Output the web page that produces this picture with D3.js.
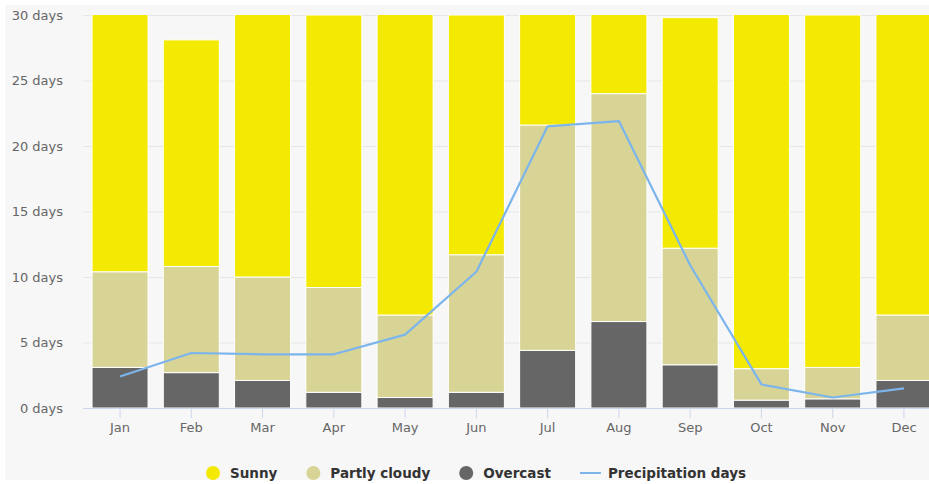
<!DOCTYPE html>
<html><head><meta charset="utf-8">
<script src="https://cdn.jsdelivr.net/npm/d3@7"></script>
<style>html,body{margin:0;padding:0;background:#fff;overflow:hidden}svg{display:block;font-family:"DejaVu Sans",Verdana,sans-serif}</style>
</head><body><svg id="c" width="929" height="484"></svg>
<script>
const months = ["Jan","Feb","Mar","Apr","May","Jun","Jul","Aug","Sep","Oct","Nov","Dec"];
const sunny = [20.6, 17.3, 21.0, 20.8, 23.9, 18.3, 9.4, 7.0, 17.6, 28.0, 26.9, 23.9];
const partlyCloudy = [7.3, 8.1, 7.9, 8.0, 6.3, 10.5, 17.2, 17.4, 8.9, 2.4, 2.4, 5.0];
const overcast = [3.1, 2.7, 2.1, 1.2, 0.8, 1.2, 4.4, 6.6, 3.3, 0.6, 0.7, 2.1];
const precipitation = [2.4, 4.2, 4.1, 4.1, 5.6, 10.4, 21.5, 21.9, 10.9, 1.8, 0.8, 1.5];
const yTicks = [0, 5, 10, 15, 20, 25, 30];
const seriesNames = ["Sunny", "Partly cloudy", "Overcast", "Precipitation days"];
const colors = {"Sunny":"#f4e900","Partly cloudy":"#d8d496","Overcast":"#666666","Precipitation days":"#7cb5ec"};

const W = 929, H = 484;
const svg = d3.select("#c");
svg.append("rect").attr("x",5).attr("y",5).attr("width",W-5).attr("height",H-9).attr("fill","#f7f7f7");

const plotTop = 15, plotBottom = 408, plotLeft = 83;
const x = d3.scaleBand().domain(months).range([84.4, 939.6]).paddingInner(0.2).paddingOuter(0.1);
const y = d3.scaleLinear().domain([0,30]).range([plotBottom, plotTop]);

// grid
svg.append("g").selectAll("line").data(yTicks).join("line")
  .attr("x1", plotLeft).attr("x2", W).attr("y1", d=>y(d)+0.5).attr("y2", d=>y(d)+0.5)
  .attr("stroke","#e6e6e6").attr("stroke-width",1);

// y labels
const ya = svg.append("g").attr("transform",`translate(${plotLeft-20},0)`)
  .call(d3.axisLeft(y).tickValues(yTicks).tickSize(0).tickPadding(0).tickFormat(d=>d+" days"));
ya.select(".domain").remove();
ya.selectAll("text").attr("fill","#666666").style("font-size","13px").style("font-family","DejaVu Sans, sans-serif");

// clip
svg.append("clipPath").attr("id","clip").append("rect").attr("x",plotLeft).attr("y",plotTop).attr("width",W-plotLeft).attr("height",plotBottom-plotTop);

const rows = months.map((m,i)=>({month:m, "Overcast":overcast[i], "Partly cloudy":partlyCloudy[i], "Sunny":sunny[i]}));
const stack = d3.stack().keys(["Overcast","Partly cloudy","Sunny"])(rows);

const bars = svg.append("g").attr("clip-path","url(#clip)");
bars.selectAll("g").data(stack).join("g").attr("fill", d=>colors[d.key])
  .selectAll("rect").data(d=>d).join("rect")
  .attr("x", d=>x(d.data.month)+0.5)
  .attr("width", x.bandwidth()-1)
  .attr("y", d=>y(d[1]))
  .attr("height", d=>Math.max(0, y(d[0])-y(d[1])))
  .attr("stroke","#ffffff").attr("stroke-width",1);

// x axis
const xa = svg.append("g").attr("transform",`translate(0,${plotBottom})`)
  .call(d3.axisBottom(x).tickSize(10).tickPadding(5));
xa.select(".domain").attr("d",`M${plotLeft},0.5H${W}`).attr("stroke","#ccd6eb");
xa.selectAll(".tick line").attr("stroke","#ccd6eb");
xa.selectAll("text").attr("fill","#666666").style("font-size","13px").style("font-family","DejaVu Sans, sans-serif");

// precipitation line
const line = d3.line().x((d,i)=>x(months[i])+x.bandwidth()/2).y(d=>y(d));
svg.append("path").datum(precipitation).attr("d",line).attr("fill","none")
  .attr("stroke",colors["Precipitation days"]).attr("stroke-width",2.2).attr("stroke-linejoin","round");

// legend
const lg = svg.append("g").attr("transform","translate(0,473)");
let cx = 206;
seriesNames.forEach((name,i)=>{
  const g = lg.append("g").attr("transform",`translate(${cx},0)`);
  let symW;
  if (name === "Precipitation days") {
    g.append("line").attr("x1",0).attr("x2",21).attr("y1",0).attr("y2",0).attr("stroke",colors[name]).attr("stroke-width",2);
    symW = 28;
  } else {
    g.append("circle").attr("cx",7).attr("cy",0).attr("r",7).attr("fill",colors[name]);
    symW = 24;
  }
  const t = g.append("text").attr("x",symW).attr("y",0).attr("dy","0.35em").text(name)
    .attr("fill","#333333").style("font-size","13.5px").style("font-weight","bold");
  cx += symW + t.node().getComputedTextLength() + 29;
});
</script></body></html>
